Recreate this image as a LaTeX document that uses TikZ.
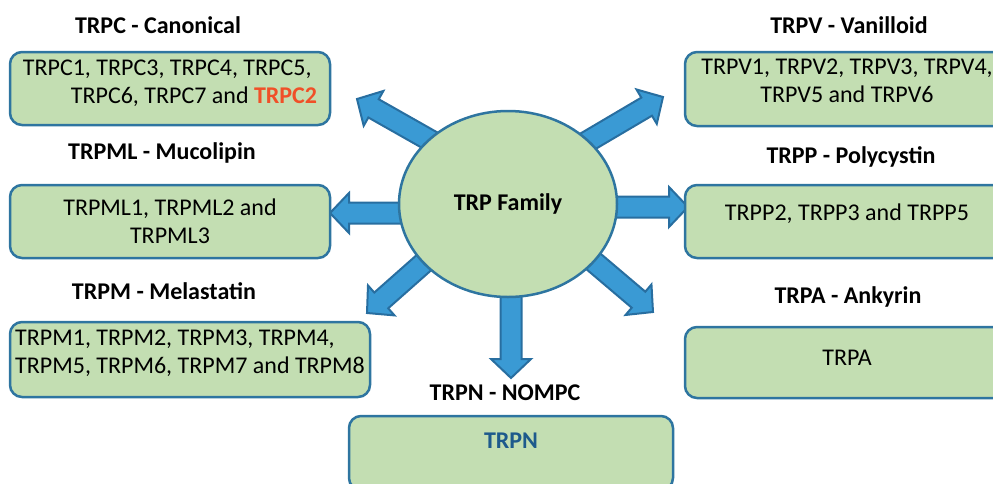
\documentclass[tikz,border=0pt]{standalone}
\usepackage{fontspec}
\setmainfont{Carlito}
\usetikzlibrary{calc,shapes.geometric,backgrounds}

\definecolor{boxgreen}{RGB}{195,222,178}
\definecolor{boxblue}{RGB}{46,117,160}
\definecolor{arrowblue}{RGB}{58,154,212}
\definecolor{arrowedge}{RGB}{40,110,160}
\definecolor{trpred}{RGB}{240,80,40}
\definecolor{trpnblue}{RGB}{30,90,140}

\newcommand{\fatarrow}[2]{%
  \path (#1) coordinate (fa-s) (#2) coordinate (fa-t);
  \path ($(fa-t)!19pt!(fa-s)$) coordinate (fa-h) ($(fa-s)!-8pt!(fa-t)$) coordinate (fa-b);
  \filldraw[fat] ($(fa-b)!10.5pt!90:(fa-t)$) -- ($(fa-h)!10.5pt!90:(fa-t)$) -- ($(fa-h)!20pt!90:(fa-t)$) -- (fa-t)
    -- ($(fa-h)!20pt!-90:(fa-t)$) -- ($(fa-h)!10.5pt!-90:(fa-t)$) -- ($(fa-b)!10.5pt!-90:(fa-t)$) -- cycle;}

\begin{document}
\begin{tikzpicture}[
    x=1pt, y=-1pt,
    font=\fontsize{24}{28}\selectfont,
    box/.style={draw=boxblue, line width=2.5pt, fill=boxgreen, rounded corners=12pt, align=center, inner sep=3pt, minimum width=324pt, minimum height=74pt},
    title/.style={font=\fontsize{24}{28}\selectfont\bfseries, anchor=base},
    family/.style={ellipse, draw=boxblue, line width=2.5pt, fill=boxgreen, minimum width=218pt, minimum height=186pt, inner sep=0pt},
    fat/.style={fill=arrowblue, draw=arrowedge, line width=2pt, line join=miter}
  ]
  \useasboundingbox (0,0) rectangle (993,483);
  \clip (0,0) rectangle (993,483);

  \node[title] (tc) at (158,33) {TRPC - Canonical};
  \node[title] (tv) at (849,33) {TRPV - Vanilloid};
  \node[title] (tml) at (162,159) {TRPML - Mucolipin};
  \node[title] (tp) at (851,163) {TRPP - Polycystin};
  \node[title] (tm) at (164,299) {TRPM - Melastatin};
  \node[title] (ta) at (848,303) {TRPA - Ankyrin};
  \node[title] (tn) at (505,400) {TRPN - NOMPC};

  \node[box, minimum width=320pt, minimum height=73pt, align=left, text height=45pt, text depth=16pt] (canonical) at (170,88.5)
    {TRPC1, TRPC3, TRPC4, TRPC5,\\\hspace*{48pt}TRPC6, TRPC7 and \textcolor{trpred}{\bfseries TRPC2}};
  \node[box, minimum width=320pt, minimum height=73pt] (mucolipin) at (170,221.5) {TRPML1, TRPML2 and\\TRPML3};
  \node[box, minimum width=360pt, minimum height=75pt, align=left, inner xsep=1pt, text height=45pt, text depth=18pt] (melastatin) at (190,359.5)
    {TRPM1, TRPM2, TRPM3, TRPM4,\\TRPM5, TRPM6, TRPM7 and TRPM8};
  \node[box, text height=45pt, text depth=19pt] (vanilloid) at (847,89) {TRPV1, TRPV2, TRPV3, TRPV4,\\TRPV5 and TRPV6};
  \node[box, minimum height=73pt, text height=17pt, text depth=20pt] (polycystin) at (847,221.5) {TRPP2, TRPP3 and TRPP5};
  \node[box, minimum height=71pt, text height=17pt, text depth=12pt] (ankyrin) at (847,362.5) {TRPA};
  \node[box, text height=17pt, text depth=27pt] (nompc) at (511,453) {\textcolor{trpnblue}{\bfseries TRPN}};

  \node[family] (fam) at (508,204) {\bfseries TRP Family};

  \coordinate (tipC) at (357,99);
  \coordinate (tipV) at (663,97);
  \coordinate (tipML) at (330,213);
  \coordinate (tipP) at (688,207);
  \coordinate (tipM) at (367,313);
  \coordinate (tipA) at (653,312);
  \coordinate (tipN) at (511,378);

  \begin{scope}[on background layer]
    \fatarrow{fam.141}{tipC}
    \fatarrow{fam.38}{tipV}
    \fatarrow{fam.west |- tipML}{tipML}
    \fatarrow{fam.east |- tipP}{tipP}
    \fatarrow{fam.215}{tipM}
    \fatarrow{fam.326}{tipA}
    \fatarrow{fam.south -| tipN}{tipN}
  \end{scope}
\end{tikzpicture}
\end{document}
